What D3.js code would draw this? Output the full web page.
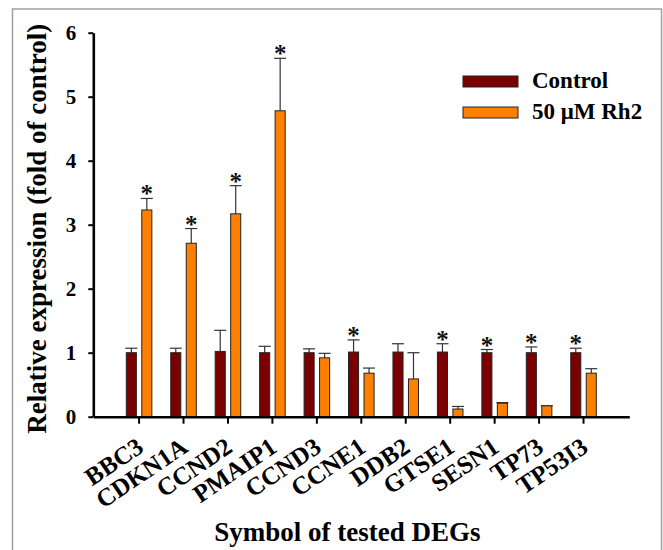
<!DOCTYPE html>
<html>
<head>
<meta charset="utf-8">
<script src="https://cdn.jsdelivr.net/npm/d3@7"></script>
<style>
  body { margin: 0; background: #fff; }
  svg { display: block; font-family: "Liberation Serif", "Times New Roman", serif; }
</style>
</head>
<body>
<div id="chart"></div>
<script>
// data
const genes = ["BBC3", "CDKN1A", "CCND2", "PMAIP1", "CCND3", "CCNE1", "DDB2", "GTSE1", "SESN1", "TP73", "TP53I3"];
const controlMean = [1.0, 1.0, 1.02, 1.0, 1.0, 1.01, 1.01, 1.01, 1.0, 1.0, 1.0];
const controlErr  = [0.07, 0.07, 0.33, 0.10, 0.06, 0.19, 0.13, 0.13, 0.05, 0.09, 0.07];
const rh2Mean = [3.23, 2.71, 3.17, 4.78, 0.92, 0.68, 0.59, 0.12, 0.21, 0.17, 0.68];
const rh2Err  = [0.18, 0.23, 0.44, 0.82, 0.07, 0.08, 0.41, 0.04, 0.01, 0.0, 0.07];
const controlSig = [false, false, false, false, false, true, false, true, true, true, true];
const rh2Sig     = [true, true, true, true, false, false, false, false, false, false, false];
const seriesNames = ["Control", "50 \u03bcM Rh2"];
const yTicks = [0, 1, 2, 3, 4, 5, 6];

const width = 663;
const height = 550;
const margin = {top: 32.7, right: 33.7, bottom: 133.3, left: 93.3};
const colors = ["#7b0000", "#ff8000"];

const svg = d3.select('#chart').append('svg')
    .attr('width', width)
    .attr('height', height);

// outer frame
svg.append('rect')
    .attr('x', 12.5).attr('y', 9)
    .attr('width', 649).attr('height', 560)
    .attr('fill', 'none')
    .attr('stroke', '#a0a0a0')
    .attr('stroke-width', 1.5);

const x = d3.scaleBand()
    .domain(genes)
    .range([margin.left, width - margin.right])
    .paddingInner(0)
    .paddingOuter(0.53);

const x1 = d3.scaleBand()
    .domain([0, 1])
    .range([0, x.bandwidth()])
    .paddingInner(0.35)
    .paddingOuter(0.61);

const y = d3.scaleLinear()
    .domain([0, 6])
    .range([height - margin.bottom, margin.top]);

const rows = genes.map((g, i) => [
    {gene: g, k: 0, v: controlMean[i], e: controlErr[i], sig: controlSig[i]},
    {gene: g, k: 1, v: rh2Mean[i], e: rh2Err[i], sig: rh2Sig[i]}
]).flat();

const groups = svg.append('g');

// error bars (upper only)
const eb = groups.selectAll('g.err')
    .data(rows)
    .join('g')
    .attr('class', 'err')
    .attr('stroke', '#333')
    .attr('stroke-width', 1.2);

eb.append('line')
    .attr('x1', d => x(d.gene) + x1(d.k) + x1.bandwidth() / 2)
    .attr('x2', d => x(d.gene) + x1(d.k) + x1.bandwidth() / 2)
    .attr('y1', d => y(d.v))
    .attr('y2', d => y(d.v + d.e));

eb.append('line')
    .attr('x1', d => x(d.gene) + x1(d.k) + x1.bandwidth() / 2 - 6)
    .attr('x2', d => x(d.gene) + x1(d.k) + x1.bandwidth() / 2 + 6)
    .attr('y1', d => y(d.v + d.e))
    .attr('y2', d => y(d.v + d.e));

groups.selectAll('rect.bar')
    .data(rows)
    .join('rect')
    .attr('class', 'bar')
    .attr('x', d => x(d.gene) + x1(d.k))
    .attr('y', d => y(d.v))
    .attr('width', x1.bandwidth())
    .attr('height', d => y(0) - y(d.v))
    .attr('fill', d => colors[d.k])
    .attr('stroke', '#222')
    .attr('stroke-width', 1);

// significance stars
groups.selectAll('text.star')
    .data(rows.filter(d => d.sig))
    .join('text')
    .attr('class', 'star')
    .attr('x', d => x(d.gene) + x1(d.k) + x1.bandwidth() / 2)
    .attr('y', d => y(d.v + d.e) + 4)
    .attr('text-anchor', 'middle')
    .attr('font-size', '25px')
    .attr('font-weight', 'bold')
    .attr('fill', '#111')
    .text('*');

// axes
const xAxis = g => g
    .attr("transform", `translate(0,${y(0)})`)
    .call(d3.axisBottom(x).tickSize(7).tickSizeOuter(0))
    .call(g => g.select(".domain").attr("stroke-width", 2.6))
    .call(g => g.selectAll(".tick line").attr("stroke-width", 2))
    .call(g => g.selectAll(".tick text")
        .attr("x", 0).attr("y", 0).attr("dy", 0)
        .attr("text-anchor", "end")
        .attr("transform", "translate(6,34) rotate(-34)")
        .attr("font-size", "25px")
        .attr("font-weight", "bold")
        .attr("font-family", "Liberation Serif")
        .attr("fill", "#000"));

const yAxis = g => g
    .attr("transform", `translate(${margin.left},0)`)
    .call(d3.axisLeft(y).tickValues(yTicks).tickFormat(d3.format("d")).tickSize(5).tickPadding(12).tickSizeOuter(0))
    .call(g => g.select(".domain").attr("stroke-width", 2.6))
    .call(g => g.selectAll(".tick line").attr("stroke-width", 2))
    .call(g => g.selectAll(".tick text")
        .attr("font-size", "21px")
        .attr("font-weight", "bold")
        .attr("font-family", "Liberation Serif")
        .attr("fill", "#000"));

svg.append('g').call(xAxis);
svg.append('g').call(yAxis);

// axis titles
svg.append('text')
    .attr('transform', `translate(46,${(y(0) + y(6)) / 2 + 4}) rotate(-90)`)
    .attr('text-anchor', 'middle')
    .attr('font-size', '27px')
    .attr('font-weight', 'bold')
    .text('Relative expression (fold of control)');

svg.append('text')
    .attr('x', (margin.left + width - margin.right) / 2 - 14)
    .attr('y', 541)
    .attr('text-anchor', 'middle')
    .attr('font-size', '27px')
    .attr('font-weight', 'bold')
    .text('Symbol of tested DEGs');

// legend
const legend = svg.append('g')
    .attr('transform', 'translate(463,76)');

const li = legend.selectAll('g')
    .data(seriesNames)
    .join('g')
    .attr('transform', (d, i) => `translate(0,${i * 31})`);

li.append('rect')
    .attr('width', 55)
    .attr('height', 11)
    .attr('fill', (d, i) => colors[i])
    .attr('stroke', '#222')
    .attr('stroke-width', 1);

li.append('text')
    .attr('x', 69)
    .attr('y', 12)
    .attr('font-size', '23px')
    .attr('font-weight', 'bold')
    .text(d => d);
</script>
</body>
</html>
